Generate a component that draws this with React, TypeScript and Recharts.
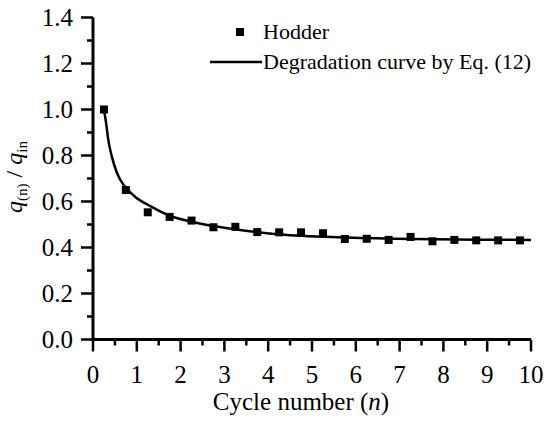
import React from 'react';
import { ComposedChart, Scatter, Line, XAxis, YAxis, Legend } from 'recharts';

// Hodder test points
const cycleN = [0.25, 0.75, 1.25, 1.75, 2.25, 2.75, 3.25, 3.75, 4.25, 4.75, 5.25, 5.75, 6.25, 6.75, 7.25, 7.75, 8.25, 8.75, 9.25, 9.75];
const hodderQ = [1.0, 0.65, 0.553, 0.533, 0.517, 0.488, 0.49, 0.467, 0.466, 0.466, 0.462, 0.437, 0.438, 0.433, 0.446, 0.427, 0.433, 0.431, 0.431, 0.431];

// degradation curve
const curveN = [0.25, 0.3, 0.35, 0.43, 0.55, 0.73, 0.96, 1.34, 1.72, 2.25, 2.86, 3.24, 4.27, 5.79, 7.31, 8.84, 10];
const curveQ = [1.0, 0.94, 0.867, 0.795, 0.723, 0.664, 0.621, 0.577, 0.541, 0.512, 0.49, 0.479, 0.457, 0.444, 0.437, 0.434, 0.433];

const xMajorTicks = [0, 1, 2, 3, 4, 5, 6, 7, 8, 9, 10];
const xMinorTicks = [0.5, 1.5, 2.5, 3.5, 4.5, 5.5, 6.5, 7.5, 8.5, 9.5];
const yMajorTicks = [0, 0.2, 0.4, 0.6, 0.8, 1.0, 1.2, 1.4];
const yMinorTicks = [0.1, 0.3, 0.5, 0.7, 0.9, 1.1, 1.3];

const seriesNames = ['Hodder', 'Degradation curve by Eq. (12)'];

const FONT = '"Liberation Serif", serif';
const textStyle = { fontFamily: FONT };

const hodderData = cycleN.map((n, i) => ({ n, q: hodderQ[i] }));
const curveData = curveN.map((n, i) => ({ n, q: curveQ[i] }));
const xTicks = [...xMajorTicks, ...xMinorTicks].sort((a, b) => a - b);
const yTicks = [...yMajorTicks, ...yMinorTicks].sort((a, b) => a - b);

const isMajor = (list: number[], v: number) => list.some((t) => Math.abs(t - v) < 1e-6);

const renderXTick = (props: any) => {
  const { x, y, payload } = props;
  const major = isMajor(xMajorTicks, payload.value);
  return (
    <g key={`xt-${payload.value}`}>
      <line x1={x} x2={x} y1={y} y2={y + (major ? 12 : 6)} stroke="#000" strokeWidth={2.5} />
      {major && (
        <text x={x} y={y + 43} textAnchor="middle" fontSize={25} style={textStyle} fill="#000">
          {String(payload.value)}
        </text>
      )}
    </g>
  );
};

const renderYTick = (props: any) => {
  const { x, y, payload } = props;
  const major = isMajor(yMajorTicks, payload.value);
  return (
    <g key={`yt-${payload.value}`}>
      <line x1={x} x2={x - (major ? 12 : 6)} y1={y} y2={y} stroke="#000" strokeWidth={2.5} />
      {major && (
        <text x={x - 20} y={y + 8} textAnchor="end" fontSize={25} style={textStyle} fill="#000">
          {payload.value.toFixed(1)}
        </text>
      )}
    </g>
  );
};

const SquareDot = (props: any) => {
  const { cx, cy } = props;
  return <rect x={cx - 4} y={cy - 4} width={8} height={8} fill="#000" />;
};

const renderXLabel = () => (
  <text x={301} y={410} textAnchor="middle" fontSize={25} style={textStyle} fill="#000">
    Cycle number (<tspan fontStyle="italic">n</tspan>)
  </text>
);

const renderYLabel = () => (
  <text
    x={22}
    y={177}
    transform="rotate(-90, 22, 177)"
    textAnchor="middle"
    fontSize={24}
    style={textStyle}
    fill="#000"
  >
    <tspan fontStyle="italic">q</tspan>
    <tspan fontSize={15} dy={5}>(n)</tspan>
    <tspan dy={-5}>{'\u00a0/\u00a0'}</tspan>
    <tspan fontStyle="italic">q</tspan>
    <tspan fontSize={15} dy={5}>in</tspan>
  </text>
);

const renderLegend = () => (
  <svg width={340} height={70} style={{ display: 'block' }}>
    <rect x={31} y={10} width={8} height={8} fill="#000" />
    <text x={58} y={21} fontSize={22} style={textStyle} fill="#000">{seriesNames[0]}</text>
    <line x1={5} x2={57} y1={44} y2={44} stroke="#000" strokeWidth={2.5} />
    <text x={58} y={51} fontSize={22} style={textStyle} fill="#000">{seriesNames[1]}</text>
  </svg>
);

export default function App() {
  return (
    <div style={{ position: 'absolute', left: 0, top: 0, fontFamily: FONT }}>
      <ComposedChart
        width={550}
        height={421}
        margin={{ top: 17.5, right: 19, bottom: 21.5, left: 0 }}
        style={{ fontFamily: FONT }}
      >
        <XAxis
          type="number"
          dataKey="n"
          domain={[0, 10]}
          ticks={xTicks}
          interval={0}
          height={60}
          tickSize={0}
          tickMargin={0}
          tickLine={false}
          tick={renderXTick}
          axisLine={{ stroke: '#000', strokeWidth: 3 }}
          label={{ content: renderXLabel }}
        />
        <YAxis
          type="number"
          dataKey="q"
          domain={[0, 1.4]}
          ticks={yTicks}
          interval={0}
          width={93}
          tickSize={0}
          tickMargin={0}
          tickLine={false}
          tick={renderYTick}
          axisLine={{ stroke: '#000', strokeWidth: 3 }}
          label={{ content: renderYLabel }}
        />
        <Legend
          layout="vertical"
          align="center"
          verticalAlign="middle"
          content={renderLegend}
          wrapperStyle={{ position: 'absolute', left: 205, top: 18, width: 340 }}
        />
        <Line
          data={curveData}
          dataKey="q"
          name={seriesNames[1]}
          type="monotone"
          stroke="#000"
          strokeWidth={2.5}
          dot={false}
          activeDot={false}
          isAnimationActive={false}
        />
        <Scatter
          data={hodderData}
          dataKey="q"
          name={seriesNames[0]}
          fill="#000"
          shape={<SquareDot />}
          isAnimationActive={false}
        />
      </ComposedChart>
    </div>
  );
}
